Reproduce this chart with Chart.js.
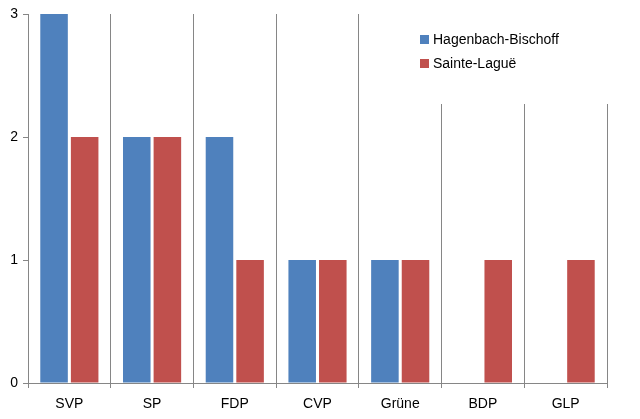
<!DOCTYPE html>
<html>
<head>
<meta charset="utf-8">
<script src="https://cdn.jsdelivr.net/npm/chart.js@4/dist/chart.umd.min.js"></script>
<style>
  html, body { margin: 0; padding: 0; background: #ffffff; }
  #wrap { width: 640px; height: 419px; }
</style>
</head>
<body>
<div id="wrap"><canvas id="c" width="640" height="419"></canvas></div>
<script>
// data
const parties = ['SVP', 'SP', 'FDP', 'CVP', 'Grüne', 'BDP', 'GLP'];
const hagenbach = [3, 2, 2, 1, 1, 0, 0];
const sainteLague = [2, 2, 1, 1, 1, 1, 1];
const seriesNames = ['Hagenbach-Bischoff', 'Sainte-Laguë'];
const yTicks = [0, 1, 2, 3];

const blue = '#4F81BD';
const red = '#C0504D';
const axisGrey = '#868686';
const font = { family: "'Liberation Sans', Arial, sans-serif", size: 14 };

// legend sits on a white box that hides the grid lines behind it
const legendBox = {
  id: 'legendBox',
  beforeDatasetsDraw(chart) {
    const ctx = chart.ctx;
    ctx.save();
    ctx.fillStyle = '#ffffff';
    ctx.fillRect(400, 0, 240, 104);
    ctx.restore();
  },
  afterDraw(chart) {
    const ctx = chart.ctx;
    const cols = [blue, red];
    ctx.save();
    ctx.font = font.size + 'px ' + font.family;
    ctx.textBaseline = 'middle';
    ctx.textAlign = 'left';
    for (let i = 0; i < seriesNames.length; i++) {
      const y = 40 + i * 24;
      ctx.fillStyle = cols[i];
      ctx.fillRect(420, y - 5, 9, 9);
      ctx.fillStyle = '#000000';
      ctx.fillText(seriesNames[i], 433, y);
    }
    ctx.restore();
  }
};

new Chart(document.getElementById('c'), {
  type: 'bar',
  data: {
    labels: parties,
    datasets: [
      { label: seriesNames[0], data: hagenbach, backgroundColor: blue },
      { label: seriesNames[1], data: sainteLague, backgroundColor: red }
    ]
  },
  options: {
    responsive: false,
    animation: false,
    devicePixelRatio: 1,
    layout: { padding: { left: 0, top: 14, right: 33, bottom: 0 } },
    datasets: { bar: { categoryPercentage: 0.74, barPercentage: 0.9 } },
    plugins: { legend: { display: false }, tooltip: { enabled: false } },
    scales: {
      x: {
        grid: { color: axisGrey, lineWidth: 1, tickLength: 5, offset: true },
        border: { color: axisGrey },
        ticks: { color: '#000000', font: font, padding: 8 },
        afterFit(s) { s.height = 36; }
      },
      y: {
        min: 0,
        max: 3,
        afterBuildTicks(s) { s.ticks = yTicks.map(v => ({ value: v })); },
        grid: { drawOnChartArea: false, drawTicks: true, tickLength: 5, color: axisGrey },
        border: { color: axisGrey },
        ticks: { color: '#000000', font: font, padding: 5 },
        afterFit(s) { s.width = 28; }
      }
    }
  },
  plugins: [legendBox]
});
</script>
</body>
</html>
